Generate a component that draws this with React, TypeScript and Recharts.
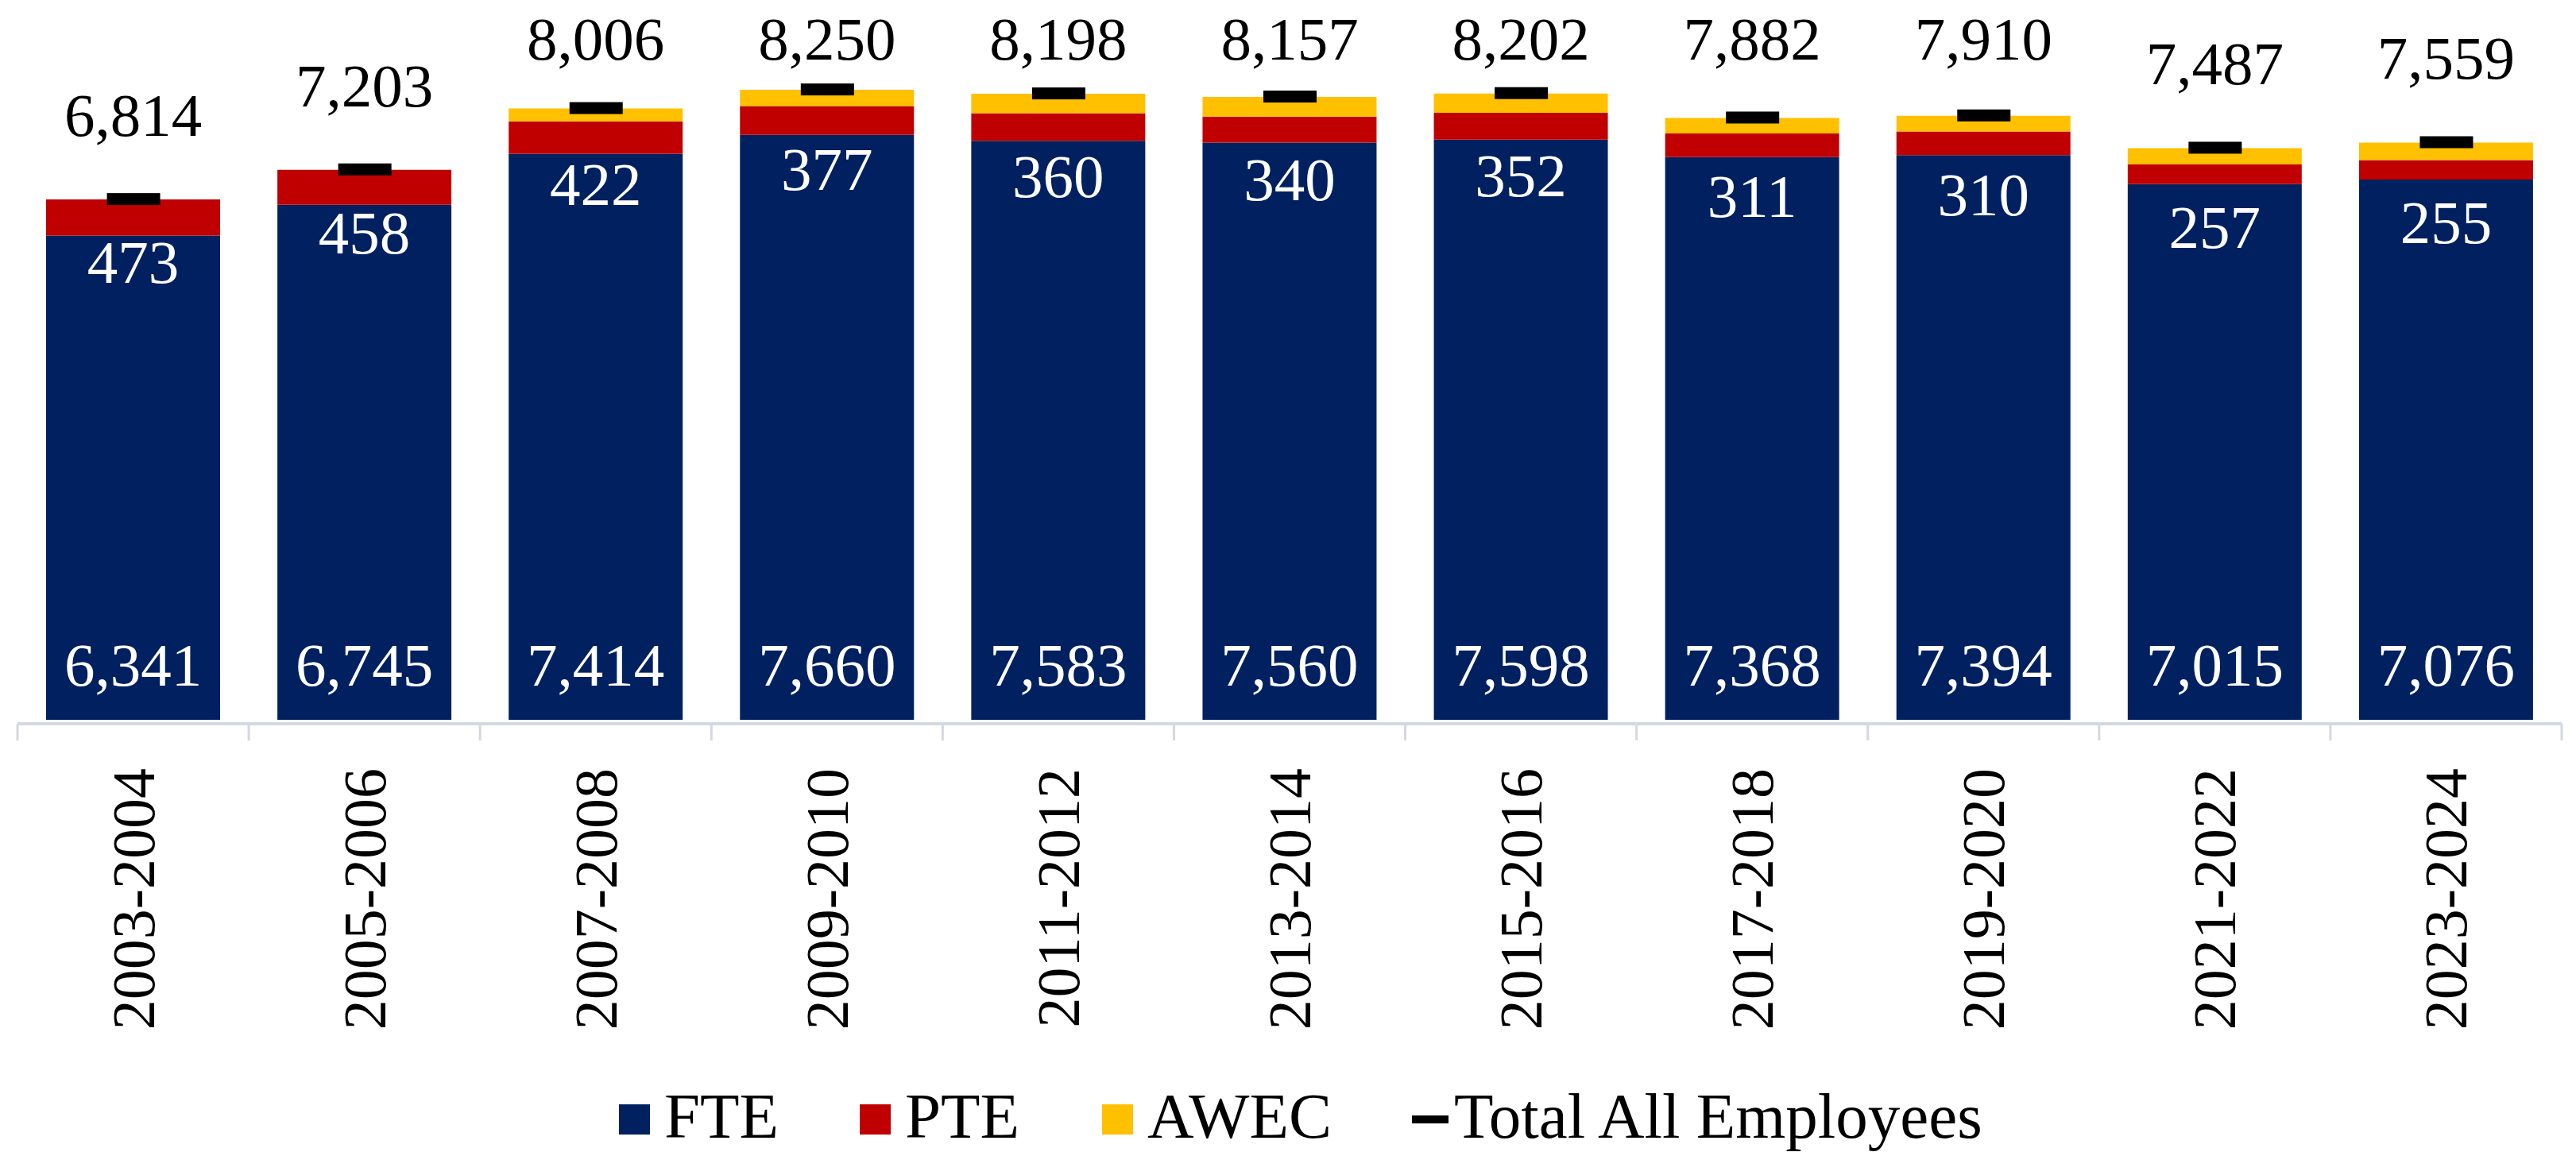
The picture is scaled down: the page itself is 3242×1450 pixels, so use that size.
import React from 'react'
import { ComposedChart, Bar, Line, XAxis, YAxis, LabelList } from 'recharts'

const periods = ['2003-2004', '2005-2006', '2007-2008', '2009-2010', '2011-2012', '2013-2014', '2015-2016', '2017-2018', '2019-2020', '2021-2022', '2023-2024']
const fte = [6341, 6745, 7414, 7660, 7583, 7560, 7598, 7368, 7394, 7015, 7076]
const pte = [473, 458, 422, 377, 360, 340, 352, 311, 310, 257, 255]
const awec = [0, 0, 170, 213, 255, 257, 252, 203, 206, 215, 228]
const totals = [6814, 7203, 8006, 8250, 8198, 8157, 8202, 7882, 7910, 7487, 7559]

const W = 3242
const H = 1450
const LEFT = 22
const RIGHT = 18
const BAND = (W - LEFT - RIGHT) / periods.length

const NAVY = '#002060'
const RED = '#C00000'
const GOLD = '#FFC000'
const AXIS = '#d3d8e2'
const FONT = '"Liberation Serif", "Times New Roman", serif'

const data = periods.map((p, i) => ({
  period: p,
  FTE: fte[i],
  PTE: pte[i],
  AWEC: awec[i],
  Total: totals[i],
}))

const fmt = (v: number) => v.toLocaleString('en-US')

// category label rotated, plus Excel-style axis line with ticks between categories
function PeriodTick(props: any) {
  const { x, y, payload, index } = props
  const half = BAND / 2
  const last = index === periods.length - 1
  return (
    <g>
      <line x1={x - half} x2={x + half} y1={y + 5} y2={y + 5} stroke={AXIS} strokeWidth={4} />
      <line x1={x - half} x2={x - half} y1={y + 5} y2={y + 26} stroke={AXIS} strokeWidth={3} />
      {last && <line x1={x + half} x2={x + half} y1={y + 5} y2={y + 26} stroke={AXIS} strokeWidth={3} />}
      <text
        transform={`translate(${x + 26},${y + 61}) rotate(-90)`}
        textAnchor="end"
        fontSize={76}
        fontFamily={FONT}
        fill="#000"
      >
        {payload.value}
      </text>
    </g>
  )
}

function FteLabel(props: any) {
  const { x, y, width, height, value } = props
  return (
    <text x={x + width / 2} y={y + height - 43} textAnchor="middle" fontSize={77} fontFamily={FONT} fill="#fff">
      {fmt(value)}
    </text>
  )
}

function PteLabel(props: any) {
  const { x, y, width, value } = props
  return (
    <text x={x + width / 2} y={y + 105} textAnchor="middle" fontSize={77} fontFamily={FONT} fill="#fff">
      {fmt(value)}
    </text>
  )
}

function TotalLabel(props: any) {
  const { x, y, value } = props
  return (
    <text x={x} y={Math.max(y - 80, 75)} textAnchor="middle" fontSize={77} fontFamily={FONT} fill="#000">
      {fmt(value)}
    </text>
  )
}

function TotalMark(props: any) {
  const { cx, cy } = props
  if (cx == null || cy == null) return null
  return <rect x={cx - 33} y={cy - 8} width={67} height={15} fill="#000" />
}

function ChartLegend() {
  const items = [
    { label: 'FTE', color: NAVY, x: 779 },
    { label: 'PTE', color: RED, x: 1082 },
    { label: 'AWEC', color: GOLD, x: 1387 },
  ]
  return (
    <svg width={W} height={H} style={{ position: 'absolute', left: 0, top: 0, pointerEvents: 'none' }}>
      {items.map(it => (
        <g key={it.label}>
          <rect x={it.x} y={1390} width={39} height={38} fill={it.color} />
          <text x={it.x + 57} y={1432} fontSize={81} fontFamily={FONT} fill="#000">{it.label}</text>
        </g>
      ))}
      <rect x={1777} y={1404} width={46} height={10} fill="#000" />
      <text x={1830} y={1432} fontSize={81} fontFamily={FONT} fill="#000">Total All Employees</text>
    </svg>
  )
}

export default function App() {
  return (
    <div style={{ position: 'absolute', left: 0, top: 0, width: W, height: H, background: '#fff', fontFamily: FONT }}>
      <ComposedChart
        width={W}
        height={H}
        data={data}
        margin={{ top: 41, right: RIGHT, bottom: 514, left: LEFT }}
        barCategoryGap={36}
      >
        <XAxis
          dataKey="period"
          axisLine={false}
          tickLine={false}
          tickSize={0}
          tickMargin={0}
          height={30}
          interval={0}
          tick={<PeriodTick />}
        />
        <YAxis hide width={0} domain={[0, 9000]} />
        <Bar dataKey="FTE" stackId="a" fill={NAVY} isAnimationActive={false}>
          <LabelList dataKey="FTE" content={<FteLabel />} />
        </Bar>
        <Bar dataKey="PTE" stackId="a" fill={RED} isAnimationActive={false}>
          <LabelList dataKey="PTE" content={<PteLabel />} />
        </Bar>
        <Bar dataKey="AWEC" stackId="a" fill={GOLD} isAnimationActive={false} />
        <Line
          dataKey="Total"
          stroke="none"
          dot={<TotalMark />}
          activeDot={false}
          isAnimationActive={false}
        >
          <LabelList dataKey="Total" content={<TotalLabel />} />
        </Line>
      </ComposedChart>
      <ChartLegend />
    </div>
  )
}
